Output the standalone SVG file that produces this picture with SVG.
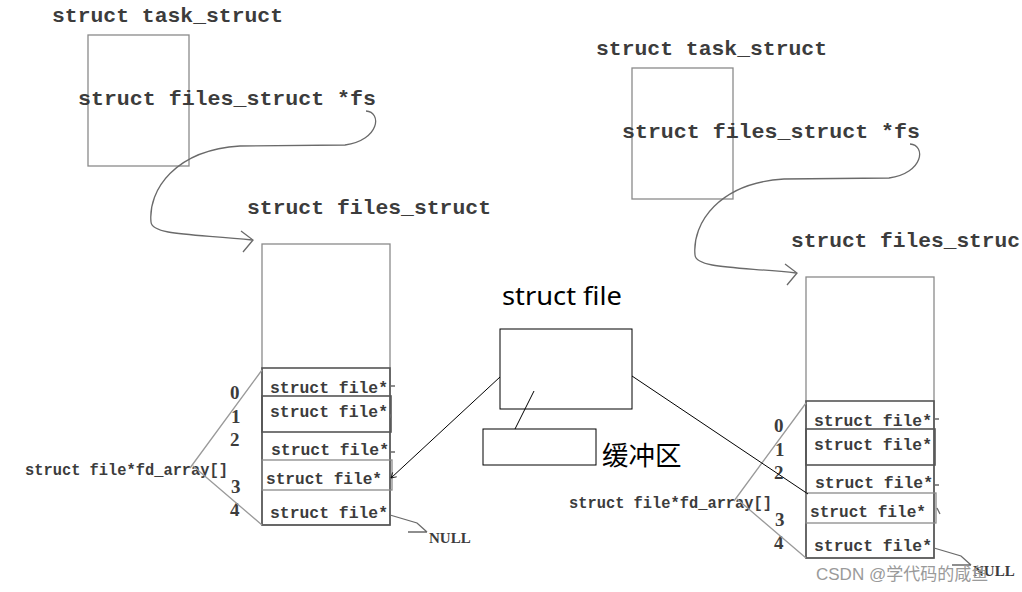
<svg xmlns="http://www.w3.org/2000/svg" width="1022" height="592" viewBox="0 0 1022 592">
<style>
.mono{font-family:"Liberation Mono","DejaVu Sans Mono",monospace;fill:#3c3c3c;font-weight:bold}
.t{font-size:21px}
.s{font-size:16.3px}
.idx{font-family:"Liberation Serif",serif;font-weight:bold;font-size:19px;fill:#3c3c3c}
.null{font-family:"Liberation Serif",serif;font-weight:bold;font-size:15px;fill:#3c3c3c}
.box{fill:none;stroke:#8a8a8a;stroke-width:1.3}
.dbox{fill:none;stroke:#555;stroke-width:1.6}
.hand{fill:none;stroke:#6a6a6a;stroke-width:1.3}
.br{fill:none;stroke:#9a9a9a;stroke-width:1.3}
.blk{fill:none;stroke:#000;stroke-width:1}
.sans{font-family:"Noto Sans","Liberation Sans",sans-serif;fill:#000}
.cjk{font-family:"Noto Sans CJK SC","Noto Sans",sans-serif;fill:#000}
.wm{font-family:"Liberation Sans","Noto Sans CJK SC",sans-serif;font-size:17px;fill:#9a9a9a}
</style>
<defs>
<marker id="ah" markerWidth="8" markerHeight="8" refX="6" refY="4" orient="auto" markerUnits="userSpaceOnUse">
<path d="M1,1 L6,4 L1,7" fill="none" stroke="#000" stroke-width="0.8"/>
</marker>
</defs>
<rect width="1022" height="592" fill="#fff"/>

<g id="left-task-struct">
<text class="mono t" x="52" y="22" textLength="231" lengthAdjust="spacingAndGlyphs">struct task_struct</text>
<rect class="box" x="88" y="35" width="101" height="131"/>
<text class="mono t" x="78" y="105" textLength="298" lengthAdjust="spacingAndGlyphs">struct files_struct *fs</text>
</g>

<g id="left-files-struct">
<text class="mono t" x="247" y="214" textLength="244" lengthAdjust="spacingAndGlyphs">struct files_struct</text>
<rect class="box" x="262" y="244" width="128" height="281"/>
<rect class="dbox" x="262" y="368" width="128" height="157"/>
<rect class="dbox" x="262" y="396" width="129" height="36"/>
<rect class="box" x="262" y="460" width="130" height="30"/>
<text class="mono s" x="270" y="393" textLength="118" lengthAdjust="spacingAndGlyphs">struct file*</text>
<text class="mono s" x="270" y="417" textLength="118" lengthAdjust="spacingAndGlyphs">struct file*</text>
<text class="mono s" x="271" y="455" textLength="118" lengthAdjust="spacingAndGlyphs">struct file*</text>
<text class="mono s" x="266" y="484" textLength="116" lengthAdjust="spacingAndGlyphs">struct file*</text>
<text class="mono s" x="270" y="518" textLength="118" lengthAdjust="spacingAndGlyphs">struct file*</text>
<text class="idx" x="230" y="399">0</text>
<text class="idx" x="231" y="423">1</text>
<text class="idx" x="230" y="446">2</text>
<text class="idx" x="231" y="493">3</text>
<text class="idx" x="230" y="516">4</text>
<text class="mono s" x="25" y="475" textLength="203" lengthAdjust="spacingAndGlyphs">struct file*fd_array[]</text>
<text class="null" x="429" y="543">NULL</text>
</g>

<g id="struct-file">
<text class="sans" x="502" y="305" font-size="25" textLength="120" lengthAdjust="spacingAndGlyphs">struct file</text>
<rect class="blk" x="500" y="329" width="132" height="80"/>
</g>

<g id="buffer">
<rect class="blk" x="483" y="429" width="113" height="36"/>
<text class="cjk" x="602" y="465" font-size="26.5">缓冲区</text>
</g>

<g id="right-task-struct" transform="translate(544,33)">
<text class="mono t" x="52" y="22" textLength="231" lengthAdjust="spacingAndGlyphs">struct task_struct</text>
<rect class="box" x="88" y="35" width="101" height="131"/>
<text class="mono t" x="78" y="105" textLength="298" lengthAdjust="spacingAndGlyphs">struct files_struct *fs</text>
</g>

<g id="right-files-struct" transform="translate(544,33)">
<text class="mono t" x="247" y="214" textLength="229" lengthAdjust="spacingAndGlyphs">struct files_struc</text>
<rect class="box" x="262" y="244" width="128" height="281"/>
<rect class="dbox" x="262" y="368" width="128" height="157"/>
<rect class="dbox" x="262" y="396" width="129" height="36"/>
<rect class="box" x="262" y="460" width="130" height="30"/>
<text class="mono s" x="270" y="393" textLength="118" lengthAdjust="spacingAndGlyphs">struct file*</text>
<text class="mono s" x="270" y="417" textLength="118" lengthAdjust="spacingAndGlyphs">struct file*</text>
<text class="mono s" x="271" y="455" textLength="118" lengthAdjust="spacingAndGlyphs">struct file*</text>
<text class="mono s" x="266" y="484" textLength="116" lengthAdjust="spacingAndGlyphs">struct file*</text>
<text class="mono s" x="270" y="518" textLength="118" lengthAdjust="spacingAndGlyphs">struct file*</text>
<text class="idx" x="230" y="399">0</text>
<text class="idx" x="231" y="423">1</text>
<text class="idx" x="230" y="446">2</text>
<text class="idx" x="231" y="493">3</text>
<text class="idx" x="230" y="516">4</text>
<text class="mono s" x="25" y="475" textLength="203" lengthAdjust="spacingAndGlyphs">struct file*fd_array[]</text>
<text class="null" x="429" y="543">NULL</text>
</g>

<g id="connectors">
<g id="left-connectors">
<path class="hand" d="M366,111 C382,112 380,140 345,145 L240,146 C175,150 148,190 151,222 C152,236 200,234 252,240"/>
<path class="hand" d="M241,231 L253,240 L243,252"/>
<path class="br" d="M262,370 L190,468 M193,466 L262,525"/>
<path class="hand" d="M390,515 L417,523 L427,532 M408,532 L427,532"/>
<path class="hand" d="M390,386 L395,386 M391,452 L395,452 M390,414 L391,418"/>
</g>
<g id="right-connectors" transform="translate(544,33)">
<path class="hand" d="M366,111 C382,112 380,140 345,145 L240,146 C175,150 148,190 151,222 C152,236 200,234 252,240"/>
<path class="hand" d="M241,231 L253,240 L243,252"/>
<path class="br" d="M262,370 L190,468 M193,466 L262,525"/>
<path class="hand" d="M390,515 L417,523 L427,532 M408,532 L427,532"/>
<path class="hand" d="M390,386 L395,386 M391,452 L395,452 M393,475 L396,481"/>
</g>
<line class="blk" x1="500" y1="377" x2="391" y2="478" marker-end="url(#ah)"/>
<line class="blk" x1="632" y1="376" x2="808" y2="494"/>
<line class="blk" x1="515" y1="429" x2="534" y2="391"/>
</g>

<text class="wm" x="816" y="580">CSDN @学代码的咸鱼</text>
</svg>
